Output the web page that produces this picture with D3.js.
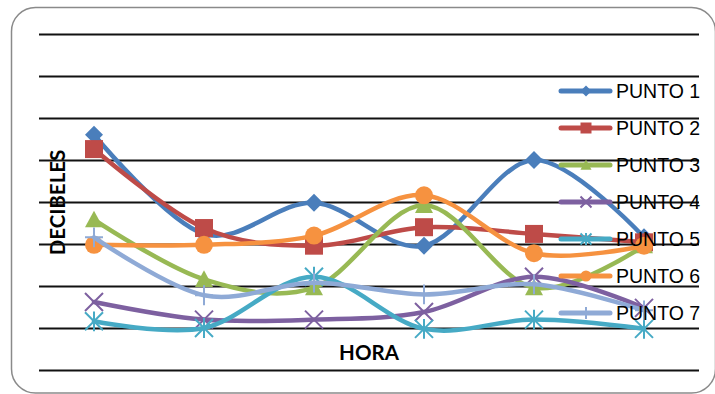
<!DOCTYPE html>
<html>
<head>
<meta charset="utf-8">
<script src="https://cdn.jsdelivr.net/npm/d3@7"></script>
<style>
  html, body { margin: 0; padding: 0; background: #fff; }
  svg { display: block; }
</style>
</head>
<body>
<svg id="chart" width="715" height="394"></svg>
<script>
// Hour categories along the x axis (not labelled on the chart)
const horas = ["1", "2", "3", "4", "5", "6"];

// Decibel readings per measuring point
const punto1 = [68.0, 56.2, 59.9, 54.8, 65.0, 55.8];
const punto2 = [66.3, 56.9, 54.8, 57.0, 56.2, 55.2];
const punto3 = [57.9, 50.8, 49.8, 59.6, 49.8, 54.8];
const punto4 = [48.1, 46.0, 46.0, 46.9, 51.1, 47.4];
const punto5 = [45.8, 45.0, 51.1, 44.9, 46.0, 44.9];
const punto6 = [54.9, 54.9, 56.0, 60.8, 53.9, 54.8];
const punto7 = [55.8, 48.9, 50.4, 49.0, 50.2, 47.1];

// Gridline values of the decibel axis
const yTicks = [40, 45, 50, 55, 60, 65, 70, 75, 80];

const seriesNames = ["PUNTO 1", "PUNTO 2", "PUNTO 3", "PUNTO 4", "PUNTO 5", "PUNTO 6", "PUNTO 7"];
const seriesValues = [punto1, punto2, punto3, punto4, punto5, punto6, punto7];
const seriesColors = ["#4A7EBB", "#BE4B48", "#98B954", "#7D60A0", "#46AAC5", "#F69240", "#8FAAD6"];
const seriesMarkers = ["diamond", "square", "triangle", "x", "star", "circle", "plus"];

const svg = d3.select("#chart");

// Outer chart frame
svg.append("rect")
  .attr("x", 11.5).attr("y", 7.5)
  .attr("width", 704).attr("height", 385.5)
  .attr("rx", 24).attr("ry", 24)
  .attr("fill", "#fff")
  .attr("stroke", "#8a8a8a")
  .attr("stroke-width", 1.5);

const plot = { left: 39, right: 699, top: 34, bottom: 370 };

const x = d3.scalePoint().domain(horas).range([plot.left, plot.right]).padding(0.5);
const y = d3.scaleLinear().domain([40, 80]).range([plot.bottom, plot.top]);

// Axis titles (drawn below the gridlines)
svg.append("text")
  .attr("transform", `translate(${64.5},${202.5}) rotate(-90)`)
  .attr("text-anchor", "middle")
  .attr("font-family", "Lato, 'Open Sans', sans-serif")
  .attr("font-weight", "bold")
  .attr("font-size", 20.5)
  .attr("fill", "#000")
  .text("DECIBELES");

svg.append("text")
  .attr("x", 369).attr("y", 360)
  .attr("text-anchor", "middle")
  .attr("font-family", "Lato, 'Open Sans', sans-serif")
  .attr("font-weight", "bold")
  .attr("font-size", 20.5)
  .attr("fill", "#000")
  .text("HORA");

// Horizontal gridlines
const grid = svg.append("g")
  .attr("transform", `translate(${plot.left},0)`)
  .call(d3.axisLeft(y).tickValues(yTicks).tickSize(-(plot.right - plot.left)).tickFormat(""));
grid.select(".domain").remove();
grid.selectAll(".tick line").attr("stroke", "#111").attr("stroke-width", 1.8);

// Marker shapes
function markerPath(kind, r) {
  switch (kind) {
    case "diamond": return `M0,${-r}L${r},0L0,${r}L${-r},0Z`;
    case "square": return `M${-r},${-r}H${r}V${r}H${-r}Z`;
    case "triangle": return `M0,${-r}L${r},${r * 0.85}L${-r},${r * 0.85}Z`;
    case "circle": return `M${r},0A${r},${r},0,1,1,${-r},0A${r},${r},0,1,1,${r},0Z`;
    case "x": return `M${-r},${-r}L${r},${r}M${-r},${r}L${r},${-r}`;
    case "star": return `M${-r},${-r}L${r},${r}M${-r},${r}L${r},${-r}M0,${-r * 1.1}V${r * 1.1}`;
    case "plus": return `M0,${-r * 1.1}V${r * 1.1}M${-r},0H${r}`;
  }
}
const filledKinds = new Set(["diamond", "square", "triangle", "circle"]);

function drawMarker(g, kind, color, r) {
  const p = g.append("path").attr("d", markerPath(kind, r));
  if (filledKinds.has(kind)) {
    p.attr("fill", color).attr("stroke", "none");
  } else {
    p.attr("fill", "none").attr("stroke", color).attr("stroke-width", 2);
  }
  return p;
}

const line = d3.line()
  .x((d, i) => x(horas[i]))
  .y(d => y(d))
  .curve(d3.curveCardinal.tension(0));

// Series: smoothed line followed by its markers
seriesValues.forEach((vals, s) => {
  const g = svg.append("g").attr("class", "series");
  g.append("path")
    .datum(vals)
    .attr("d", line)
    .attr("fill", "none")
    .attr("stroke", seriesColors[s])
    .attr("stroke-width", 4.5)
    .attr("stroke-linejoin", "round")
    .attr("stroke-linecap", "round");
  vals.forEach((v, i) => {
    const m = g.append("g").attr("transform", `translate(${x(horas[i])},${y(v)})`);
    drawMarker(m, seriesMarkers[s], seriesColors[s], 9);
  });
});

// Legend
const legend = svg.append("g").attr("class", "legend");
seriesNames.forEach((name, s) => {
  const ly = 91 + s * 37;
  const item = legend.append("g").attr("transform", `translate(0,${ly})`);
  item.append("line")
    .attr("x1", 561).attr("x2", 610)
    .attr("y1", 0).attr("y2", 0)
    .attr("stroke", seriesColors[s])
    .attr("stroke-width", 5)
    .attr("stroke-linecap", "round");
  const m = item.append("g").attr("transform", "translate(586,0)");
  drawMarker(m, seriesMarkers[s], seriesColors[s], 5.5);
  item.append("text")
    .attr("x", 616).attr("y", 6.5)
    .attr("font-family", "'Liberation Sans', Arial, sans-serif")
    .attr("font-size", 19.5)
    .attr("fill", "#000")
    .text(name);
});
</script>
</body>
</html>
